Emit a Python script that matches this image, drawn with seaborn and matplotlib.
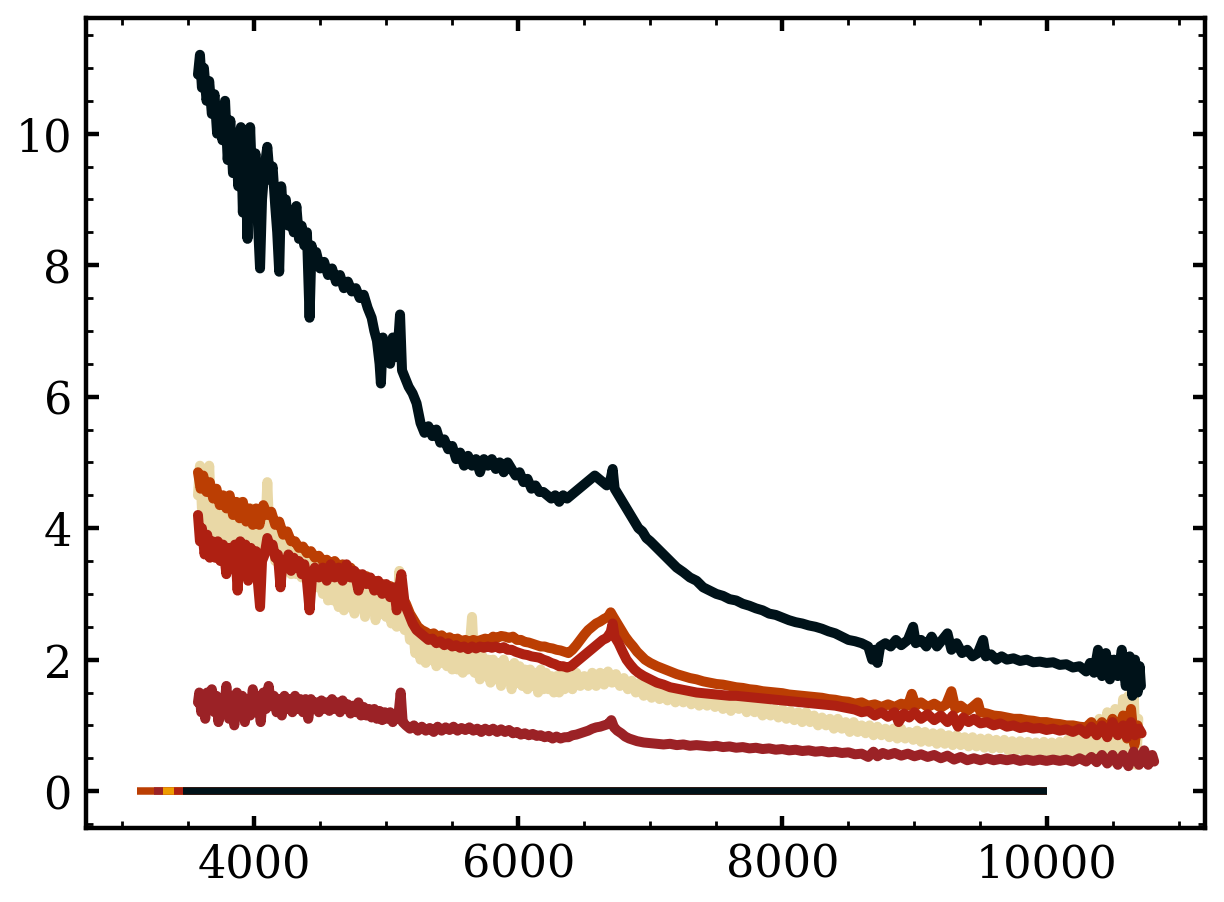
import numpy as np
import pandas as pd
import seaborn as sns
import matplotlib
matplotlib.use("Agg")
import matplotlib.pyplot as plt
from matplotlib.ticker import MultipleLocator

# --- spectra (wavelength in A, flux in arbitrary units) ---
wave_black = [3575, 3590, 3605, 3620, 3640, 3660, 3680, 3700, 3720, 3740, 3760, 3780, 3800, 3820, 3840,
              3860, 3880, 3900, 3915, 3930, 3950, 3970, 3990, 4010, 4030, 4045, 4060, 4080, 4100, 4120,
              4140, 4160, 4175, 4190, 4205, 4220, 4240, 4260, 4280, 4300, 4320, 4340, 4360, 4380, 4400,
              4420, 4435, 4450, 4470, 4500, 4530, 4560, 4590, 4620, 4650, 4680, 4710, 4740, 4770, 4800,
              4830, 4860, 4890, 4910, 4930, 4950, 4960, 4975, 4990, 5010, 5030, 5050, 5070, 5090, 5105,
              5120, 5140, 5170, 5200, 5230, 5260, 5290, 5320, 5350, 5380, 5410, 5440, 5470, 5500, 5530,
              5560, 5590, 5620, 5650, 5680, 5710, 5740, 5770, 5800, 5830, 5860, 5890, 5920, 5950, 5980,
              6010, 6040, 6070, 6100, 6130, 6160, 6190, 6220, 6250, 6280, 6310, 6340, 6370, 6400, 6430,
              6460, 6490, 6520, 6550, 6580, 6610, 6640, 6670, 6700, 6715, 6730, 6760, 6790, 6820, 6850,
              6880, 6910, 6940, 6970, 7000, 7050, 7100, 7150, 7200, 7250, 7300, 7350, 7400, 7450, 7500,
              7550, 7600, 7650, 7700, 7750, 7800, 7850, 7900, 7950, 8000, 8050, 8100, 8150, 8200, 8250,
              8300, 8350, 8400, 8450, 8500, 8550, 8600, 8650, 8680, 8700, 8720, 8740, 8780, 8820, 8860,
              8900, 8950, 8990, 9010, 9050, 9090, 9130, 9170, 9210, 9250, 9280, 9320, 9360, 9400, 9440,
              9480, 9520, 9540, 9580, 9620, 9660, 9700, 9750, 9800, 9850, 9900, 9950, 10000, 10050, 10100,
              10150, 10200, 10250, 10300, 10330, 10360, 10390, 10420, 10450, 10480, 10510, 10540, 10570,
              10600, 10630, 10650, 10670, 10690, 10705, 10715]
flux_black = [10.9, 11.2, 10.7, 11.0, 10.5, 10.8, 10.3, 10.6, 10.0, 10.4, 9.9, 10.5, 9.6, 10.2, 9.4,
              10.0, 9.2, 10.1, 8.8, 9.9, 8.4, 10.1, 9.0, 9.7, 8.6, 7.95, 9.0, 9.5, 9.8, 9.3,
              9.5, 8.9, 8.5, 7.9, 9.2, 8.8, 9.0, 8.6, 8.8, 8.5, 8.9, 8.4, 8.6, 8.3, 8.5,
              7.2, 8.3, 8.0, 8.2, 7.95, 8.05, 7.85, 7.95, 7.75, 7.85, 7.65, 7.75, 7.6, 7.65, 7.5,
              7.55, 7.35, 7.2, 7.0, 6.85, 6.5, 6.2, 6.9, 6.6, 6.8, 6.5, 6.9, 6.6, 6.8, 7.25,
              6.4, 6.3, 6.15, 6.05, 5.9, 5.6, 5.45, 5.55, 5.4, 5.5, 5.3, 5.35, 5.2, 5.25, 5.05,
              5.15, 4.95, 5.1, 4.95, 5.05, 4.85, 5.05, 4.95, 5.05, 4.9, 5.0, 4.85, 5.0, 4.9, 4.8,
              4.85, 4.7, 4.75, 4.6, 4.65, 4.55, 4.55, 4.5, 4.45, 4.5, 4.4, 4.5, 4.45, 4.5, 4.55,
              4.6, 4.65, 4.7, 4.75, 4.8, 4.75, 4.7, 4.65, 4.75, 4.9, 4.6, 4.5, 4.4, 4.3, 4.2,
              4.1, 4.0, 3.95, 3.85, 3.8, 3.7, 3.6, 3.5, 3.4, 3.33, 3.25, 3.2, 3.1, 3.05, 3.0,
              2.97, 2.92, 2.9, 2.85, 2.82, 2.78, 2.75, 2.7, 2.68, 2.64, 2.6, 2.57, 2.55, 2.52, 2.5,
              2.47, 2.43, 2.4, 2.35, 2.3, 2.28, 2.25, 2.2, 2.0, 2.15, 1.95, 2.2, 2.25, 2.2, 2.3,
              2.22, 2.3, 2.5, 2.25, 2.3, 2.2, 2.35, 2.2, 2.3, 2.4, 2.15, 2.25, 2.1, 2.15, 2.05,
              2.1, 2.3, 2.05, 2.08, 2.0, 2.05, 2.0, 2.02, 1.98, 2.0, 1.96, 1.97, 1.95, 1.96, 1.92,
              1.93, 1.88, 1.9, 1.82, 1.95, 1.8, 2.15, 1.75, 2.1, 1.7, 2.0, 1.75, 2.15,
              1.6, 2.05, 1.45, 2.0, 1.5, 1.9, 1.6]

wave_orange = [3575, 3595, 3615, 3640, 3665, 3690, 3715, 3740, 3765, 3790, 3815, 3840, 3865, 3890, 3915,
               3940, 3965, 3990, 4015, 4040, 4070, 4100, 4130, 4160, 4190, 4220, 4250, 4280, 4310, 4340,
               4370, 4400, 4430, 4460, 4490, 4520, 4550, 4580, 4610, 4640, 4670, 4700, 4730, 4760, 4790,
               4820, 4850, 4880, 4910, 4940, 4970, 5000, 5030, 5060, 5090, 5120, 5150, 5180, 5210, 5240,
               5270, 5300, 5330, 5360, 5390, 5420, 5450, 5480, 5510, 5540, 5570, 5600, 5630, 5660, 5690,
               5720, 5750, 5780, 5810, 5840, 5870, 5900, 5930, 5960, 5990, 6020, 6050, 6080, 6110, 6140,
               6170, 6200, 6230, 6260, 6290, 6320, 6350, 6380, 6410, 6440, 6470, 6500, 6530, 6560, 6590,
               6620, 6650, 6680, 6700, 6720, 6750, 6780, 6810, 6840, 6870, 6900, 6930, 6960, 7000, 7050,
               7100, 7150, 7200, 7250, 7300, 7350, 7400, 7450, 7500, 7550, 7600, 7650, 7700, 7750, 7800,
               7850, 7900, 7950, 8000, 8050, 8100, 8150, 8200, 8250, 8300, 8350, 8400, 8450, 8500, 8550,
               8600, 8650, 8700, 8750, 8800, 8850, 8900, 8950, 8980, 9010, 9050, 9100, 9150, 9200, 9240,
               9280, 9310, 9350, 9400, 9440, 9480, 9500, 9550, 9600, 9650, 9700, 9750, 9800, 9850, 9900,
               9950, 10000, 10050, 10100, 10150, 10200, 10250, 10300, 10340, 10380, 10420, 10460, 10500,
               10540, 10580, 10610, 10640, 10665, 10690]
flux_orange = [4.85, 4.6, 4.8, 4.55, 4.7, 4.45, 4.6, 4.35, 4.5, 4.3, 4.5, 4.2, 4.4, 4.15, 4.4,
               4.1, 4.3, 4.05, 4.3, 4.05, 4.35, 4.2, 4.25, 4.05, 4.1, 3.9, 3.95, 3.8, 3.8, 3.7,
               3.72, 3.62, 3.65, 3.55, 3.58, 3.5, 3.52, 3.45, 3.5, 3.42, 3.45, 3.38, 3.4, 3.32, 3.3,
               3.25, 3.27, 3.18, 3.2, 3.12, 3.15, 3.1, 3.12, 3.05, 3.1, 2.95, 2.85, 2.7, 2.6, 2.5,
               2.45, 2.42, 2.38, 2.4, 2.35, 2.37, 2.32, 2.34, 2.3, 2.32, 2.28, 2.3, 2.27, 2.3, 2.28,
               2.3, 2.32, 2.3, 2.35, 2.33, 2.36, 2.35, 2.33, 2.35, 2.3, 2.3, 2.27, 2.26, 2.24, 2.22,
               2.2, 2.2, 2.18, 2.17, 2.15, 2.14, 2.12, 2.1, 2.15, 2.22, 2.3, 2.38, 2.45, 2.5, 2.55,
               2.58, 2.62, 2.65, 2.72, 2.65, 2.55, 2.45, 2.35, 2.27, 2.2, 2.12, 2.06, 2.0, 1.95, 1.9,
               1.86, 1.82, 1.78, 1.75, 1.72, 1.7, 1.67, 1.65, 1.63, 1.62, 1.6, 1.58, 1.57, 1.55, 1.54,
               1.52, 1.51, 1.5, 1.49, 1.47, 1.46, 1.45, 1.44, 1.43, 1.42, 1.4, 1.39, 1.37, 1.36, 1.33,
               1.35, 1.3, 1.32, 1.28, 1.32, 1.28, 1.33, 1.3, 1.48, 1.3, 1.35, 1.28, 1.33, 1.27, 1.32,
               1.52, 1.25, 1.3, 1.22, 1.28, 1.35, 1.2, 1.18, 1.15, 1.14, 1.12, 1.1, 1.1, 1.08, 1.07,
               1.05, 1.05, 1.03, 1.02, 1.0, 1.0, 0.98, 0.97, 1.05, 0.92, 1.05, 0.9, 1.1,
               0.9, 1.15, 0.8, 1.25, 0.7, 1.0]

wave_red = [3575, 3590, 3605, 3625, 3645, 3665, 3685, 3705, 3725, 3745, 3765, 3790, 3810, 3835, 3855,
            3875, 3895, 3915, 3935, 3955, 3975, 3995, 4015, 4030, 4045, 4060, 4080, 4100, 4120, 4140,
            4160, 4180, 4200, 4215, 4240, 4260, 4280, 4300, 4320, 4340, 4360, 4380, 4400, 4420, 4440,
            4460, 4490, 4520, 4550, 4580, 4610, 4640, 4670, 4700, 4730, 4760, 4790, 4820, 4850, 4880,
            4910, 4940, 4970, 5000, 5030, 5060, 5080, 5100, 5115, 5140, 5170, 5200, 5230, 5260, 5290,
            5320, 5350, 5380, 5410, 5440, 5470, 5500, 5530, 5560, 5590, 5620, 5650, 5680, 5710, 5740,
            5770, 5800, 5830, 5860, 5890, 5920, 5950, 5980, 6010, 6040, 6070, 6100, 6130, 6160, 6190,
            6220, 6250, 6280, 6310, 6340, 6370, 6400, 6430, 6460, 6490, 6520, 6550, 6580, 6610, 6640,
            6670, 6700, 6715, 6730, 6760, 6790, 6820, 6850, 6880, 6910, 6950, 7000, 7050, 7100, 7150,
            7200, 7250, 7300, 7350, 7400, 7450, 7500, 7550, 7600, 7650, 7700, 7750, 7800, 7850, 7900,
            7950, 8000, 8050, 8100, 8150, 8200, 8250, 8300, 8350, 8400, 8450, 8500, 8550, 8600, 8650,
            8700, 8750, 8800, 8850, 8880, 8920, 8960, 9000, 9050, 9100, 9150, 9200, 9250, 9290, 9330,
            9370, 9410, 9450, 9500, 9550, 9600, 9650, 9700, 9750, 9800, 9850, 9900, 9950, 10000, 10050,
            10100, 10150, 10200, 10250, 10300, 10340, 10380, 10420, 10460, 10500, 10540, 10580, 10610,
            10640, 10670, 10700, 10720]
flux_red = [4.2, 3.8, 4.0, 3.6, 3.9, 3.55, 3.8, 3.55, 3.8, 3.5, 3.75, 3.3, 3.7, 3.4, 3.75,
            3.05, 3.8, 3.3, 3.75, 3.2, 3.7, 3.35, 3.65, 3.15, 2.8, 3.5, 3.6, 3.85, 3.7, 3.75,
            3.55, 3.6, 3.1, 3.5, 3.45, 3.6, 3.35, 3.55, 3.4, 3.5, 3.3, 3.45, 3.2, 2.75, 3.3,
            3.4, 3.25, 3.4, 3.2, 3.45, 3.25, 3.4, 3.2, 3.45, 3.25, 3.35, 3.05, 3.3, 3.15, 3.25,
            3.05, 3.2, 3.0, 3.15, 2.95, 3.1, 2.75, 3.1, 3.3, 2.85, 2.7, 2.55, 2.45, 2.4, 2.35,
            2.3, 2.32, 2.25, 2.28, 2.22, 2.25, 2.2, 2.22, 2.18, 2.2, 2.16, 2.2, 2.17, 2.2, 2.18,
            2.2, 2.18, 2.2, 2.17, 2.19, 2.15, 2.15, 2.12, 2.1, 2.08, 2.07, 2.05, 2.04, 2.03, 2.0,
            1.98, 1.95, 1.93, 1.9, 1.9, 1.88, 1.9, 1.95, 2.0, 2.05, 2.1, 2.15, 2.2, 2.25, 2.3,
            2.33, 2.42, 2.55, 2.35, 2.25, 2.12, 2.0, 1.92, 1.85, 1.8, 1.75, 1.7, 1.65, 1.62, 1.58,
            1.56, 1.54, 1.52, 1.5, 1.49, 1.48, 1.47, 1.46, 1.45, 1.45, 1.44, 1.43, 1.42, 1.41, 1.4,
            1.39, 1.38, 1.37, 1.36, 1.35, 1.34, 1.33, 1.32, 1.31, 1.3, 1.28, 1.26, 1.24, 1.2, 1.22,
            1.15, 1.2, 1.13, 1.2, 1.05, 1.18, 1.12, 1.2, 1.1, 1.17, 1.08, 1.15, 1.05, 1.15, 0.98,
            1.12, 1.05, 1.1, 1.03, 1.05, 1.0, 1.03, 0.98, 1.0, 0.96, 0.98, 0.95, 0.96, 0.93, 0.95,
            0.92, 0.94, 0.9, 0.95, 0.87, 0.98, 0.85, 1.0, 0.82, 1.05, 0.85, 1.0, 0.82,
            1.05, 0.85, 0.95, 0.88]

wave_tan = [3575, 3590, 3605, 3620, 3640, 3660, 3680, 3700, 3720, 3740, 3760, 3780, 3800, 3820, 3840,
            3860, 3880, 3900, 3920, 3940, 3960, 3980, 4000, 4020, 4040, 4060, 4080, 4100, 4120, 4140,
            4160, 4180, 4200, 4220, 4240, 4260, 4280, 4300, 4320, 4340, 4360, 4380, 4400, 4420, 4440,
            4460, 4480, 4500, 4520, 4540, 4560, 4580, 4600, 4620, 4640, 4660, 4680, 4700, 4720, 4740,
            4760, 4780, 4800, 4820, 4840, 4860, 4880, 4900, 4920, 4940, 4960, 4980, 5000, 5020, 5040,
            5060, 5080, 5100, 5120, 5140, 5160, 5180, 5200, 5220, 5240, 5260, 5280, 5300, 5320, 5340,
            5360, 5380, 5400, 5420, 5440, 5460, 5480, 5500, 5520, 5540, 5560, 5580, 5600, 5620, 5650,
            5670, 5690, 5710, 5730, 5750, 5770, 5790, 5810, 5830, 5850, 5870, 5890, 5910, 5930, 5950,
            5970, 5990, 6010, 6030, 6050, 6070, 6090, 6110, 6130, 6150, 6170, 6190, 6210, 6230, 6250,
            6270, 6290, 6310, 6330, 6350, 6380, 6410, 6440, 6470, 6500, 6530, 6560, 6590, 6620, 6650,
            6680, 6710, 6740, 6770, 6800, 6830, 6860, 6890, 6920, 6950, 6980, 7010, 7040, 7070, 7100,
            7130, 7160, 7190, 7220, 7250, 7280, 7310, 7340, 7370, 7400, 7430, 7460, 7490, 7520, 7550,
            7580, 7610, 7640, 7670, 7700, 7730, 7760, 7790, 7820, 7850, 7880, 7910, 7940, 7970, 8000,
            8030, 8060, 8090, 8120, 8150, 8180, 8210, 8240, 8270, 8300, 8330, 8360, 8390, 8420, 8450,
            8480, 8510, 8540, 8570, 8600, 8630, 8660, 8690, 8720, 8750, 8780, 8810, 8840, 8870, 8900,
            8930, 8960, 8990, 9020, 9050, 9080, 9110, 9140, 9170, 9200, 9230, 9260, 9290, 9320, 9350,
            9380, 9410, 9440, 9470, 9500, 9530, 9560, 9590, 9620, 9650, 9680, 9710, 9740, 9770, 9800,
            9830, 9860, 9890, 9920, 9950, 9980, 10010, 10040, 10070, 10100, 10130, 10160, 10190, 10220,
            10250, 10280, 10310, 10340, 10370, 10400, 10430, 10460, 10490, 10520, 10550, 10580, 10600,
            10620, 10640, 10660, 10680, 10695]
flux_tan = [4.5, 4.95, 4.3, 4.8, 4.1, 4.95, 3.9, 4.6, 3.75, 4.5, 3.6, 4.4, 3.55, 4.3, 3.45,
            4.2, 3.6, 4.4, 3.4, 4.1, 3.5, 4.3, 3.6, 4.05, 3.3, 4.2, 3.7, 4.7, 3.7, 4.1,
            3.5, 3.9, 3.4, 3.9, 3.45, 3.8, 3.3, 3.75, 3.3, 3.7, 3.25, 3.6, 3.2, 3.55, 3.1,
            3.5, 3.1, 3.45, 3.0, 3.4, 2.9, 3.35, 2.9, 3.3, 2.8, 3.25, 2.75, 3.2, 2.8, 3.15,
            2.7, 3.2, 2.8, 3.1, 2.65, 3.05, 2.75, 3.0, 2.6, 2.95, 2.7, 3.0, 2.65, 2.9, 2.55,
            2.85, 2.5, 3.35, 2.6, 2.45, 2.7, 2.3, 2.55, 2.1, 2.4, 2.0, 2.35, 1.95, 2.3, 2.0,
            2.35, 1.9, 2.3, 1.95, 2.25, 1.9, 2.25, 1.85, 2.2, 1.85, 2.15, 1.8, 2.2, 1.85, 2.65,
            1.8, 2.1, 1.7, 2.05, 1.75, 2.0, 1.65, 2.0, 1.7, 1.95, 1.6, 2.0, 1.7, 1.9, 1.55,
            1.95, 1.65, 1.9, 1.6, 1.85, 1.55, 1.85, 1.6, 1.8, 1.5, 1.85, 1.55, 1.8, 1.55, 1.75,
            1.5, 1.75, 1.5, 1.8, 1.55, 1.75, 1.55, 1.8, 1.6, 1.75, 1.6, 1.8, 1.6, 1.8, 1.62,
            1.82, 1.65, 1.78, 1.6, 1.72, 1.55, 1.68, 1.5, 1.65, 1.45, 1.6, 1.42, 1.58, 1.4, 1.55,
            1.38, 1.52, 1.35, 1.5, 1.35, 1.48, 1.32, 1.45, 1.3, 1.45, 1.3, 1.42, 1.28, 1.4, 1.25,
            1.38, 1.22, 1.35, 1.25, 1.35, 1.2, 1.33, 1.2, 1.3, 1.15, 1.3, 1.15, 1.25, 1.12, 1.25,
            1.1, 1.22, 1.08, 1.2, 1.05, 1.2, 1.05, 1.15, 1.0, 1.12, 1.0, 1.1, 0.95, 1.1, 0.95,
            1.05, 0.9, 1.05, 0.9, 1.0, 0.88, 1.0, 0.85, 0.98, 0.85, 0.95, 0.82, 0.95, 0.8, 0.95,
            0.8, 0.9, 0.78, 0.92, 0.75, 0.9, 0.75, 0.88, 0.72, 0.88, 0.72, 0.85, 0.7, 0.85, 0.7,
            0.82, 0.68, 0.82, 0.68, 0.8, 0.66, 0.8, 0.65, 0.78, 0.65, 0.78, 0.62, 0.76, 0.62, 0.76,
            0.6, 0.75, 0.6, 0.74, 0.58, 0.75, 0.6, 0.74, 0.58, 0.75, 0.6, 0.78, 0.6, 0.8,
            0.6, 0.85, 0.55, 0.95, 0.5, 1.1, 0.55, 1.2, 0.45, 1.25, 0.5, 1.4, 0.45,
            1.45, 0.4, 1.5, 0.4, 1.1]

wave_darkred = [3575, 3585, 3600, 3615, 3630, 3645, 3660, 3680, 3700, 3715, 3730, 3750, 3770, 3790, 3810,
                3830, 3850, 3870, 3890, 3910, 3930, 3950, 3970, 3990, 4010, 4030, 4050, 4070, 4090, 4110,
                4130, 4150, 4170, 4190, 4210, 4230, 4250, 4270, 4290, 4310, 4330, 4350, 4370, 4390, 4410,
                4430, 4450, 4470, 4490, 4510, 4530, 4550, 4570, 4590, 4610, 4630, 4650, 4670, 4690, 4710,
                4730, 4750, 4770, 4790, 4810, 4830, 4850, 4870, 4890, 4910, 4930, 4950, 4970, 4990, 5010,
                5030, 5050, 5070, 5090, 5110, 5125, 5150, 5180, 5210, 5240, 5270, 5300, 5330, 5360, 5390,
                5420, 5450, 5480, 5510, 5540, 5570, 5600, 5630, 5660, 5690, 5720, 5750, 5780, 5810, 5840,
                5870, 5900, 5930, 5960, 5990, 6020, 6050, 6080, 6110, 6140, 6170, 6200, 6230, 6260, 6290,
                6320, 6350, 6380, 6410, 6440, 6470, 6500, 6530, 6560, 6590, 6620, 6650, 6680, 6705, 6725,
                6750, 6780, 6810, 6840, 6870, 6900, 6950, 7000, 7050, 7100, 7150, 7200, 7250, 7300, 7350,
                7400, 7450, 7500, 7550, 7600, 7650, 7700, 7750, 7800, 7850, 7900, 7950, 8000, 8050, 8100,
                8150, 8200, 8250, 8300, 8350, 8400, 8450, 8500, 8550, 8600, 8650, 8690, 8720, 8760, 8800,
                8850, 8900, 8950, 9000, 9050, 9100, 9150, 9200, 9250, 9300, 9350, 9400, 9450, 9500, 9550,
                9600, 9650, 9700, 9750, 9800, 9850, 9900, 9950, 10000, 10050, 10100, 10150, 10200, 10250,
                10300, 10340, 10380, 10420, 10460, 10500, 10540, 10580, 10620, 10660, 10700, 10740, 10770,
                10800, 10815]
flux_darkred = [1.35, 1.5, 1.2, 1.45, 1.1, 1.5, 1.25, 1.55, 1.2, 1.45, 1.05, 1.4, 1.2, 1.6, 1.1,
                1.45, 1.0, 1.5, 1.2, 1.45, 1.05, 1.4, 1.15, 1.55, 1.2, 1.45, 1.05, 1.5, 1.25, 1.6,
                1.3, 1.45, 1.2, 1.4, 1.15, 1.45, 1.25, 1.4, 1.2, 1.45, 1.25, 1.4, 1.2, 1.4, 1.1,
                1.4, 1.25, 1.35, 1.2, 1.38, 1.25, 1.35, 1.22, 1.4, 1.25, 1.35, 1.2, 1.38, 1.25, 1.32,
                1.18, 1.3, 1.2, 1.35, 1.15, 1.28, 1.15, 1.25, 1.12, 1.25, 1.1, 1.22, 1.08, 1.2, 1.1,
                1.2, 1.05, 1.15, 1.1, 1.5, 1.05, 1.0, 0.95, 1.0, 0.92, 0.98, 0.92, 0.96, 0.9, 0.98,
                0.92, 0.97, 0.93, 0.98, 0.92, 0.96, 0.93, 0.97, 0.92, 0.95, 0.9, 0.95, 0.91, 0.95, 0.9,
                0.94, 0.9, 0.93, 0.88, 0.9, 0.86, 0.88, 0.85, 0.87, 0.84, 0.85, 0.82, 0.84, 0.8, 0.83,
                0.8, 0.82, 0.82, 0.85, 0.86, 0.88, 0.9, 0.92, 0.95, 0.97, 0.98, 1.0, 1.02, 1.08, 0.97,
                0.92, 0.88, 0.83, 0.8, 0.78, 0.76, 0.74, 0.73, 0.72, 0.71, 0.72, 0.7, 0.71, 0.69, 0.7,
                0.69, 0.68, 0.69, 0.67, 0.68, 0.66, 0.67, 0.65, 0.66, 0.64, 0.65, 0.63, 0.64, 0.62, 0.63,
                0.61, 0.62, 0.6, 0.61, 0.59, 0.6, 0.58, 0.59, 0.56, 0.57, 0.52, 0.6, 0.53, 0.58, 0.55,
                0.58, 0.54, 0.57, 0.53, 0.56, 0.52, 0.55, 0.5, 0.54, 0.48, 0.52, 0.47, 0.5, 0.47, 0.5,
                0.47, 0.49, 0.47, 0.49, 0.46, 0.48, 0.46, 0.48, 0.46, 0.48, 0.46, 0.48, 0.45, 0.5,
                0.45, 0.52, 0.44, 0.55, 0.42, 0.55, 0.4, 0.55, 0.38, 0.6, 0.4, 0.62, 0.4,
                0.55, 0.45]

# flat zero-level segments drawn at the bottom (start wavelength, end wavelength)
zero_start = [3110, 3240, 3307, 3390, 3465]
zero_end = [10000, 10000, 10000, 10000, 10000]
zero_colors = ["#bb3e03", "#9b2226", "#ee9b00", "#ae2012", "#001219"]

series = [
    (wave_tan, flux_tan, "#e9d8a6"),
    (wave_orange, flux_orange, "#bb3e03"),
    (wave_red, flux_red, "#ae2012"),
    (wave_darkred, flux_darkred, "#9b2226"),
    (wave_black, flux_black, "#001219"),
]

sns.set_style("ticks", {"axes.edgecolor": "black", "xtick.color": "black",
                        "ytick.color": "black", "text.color": "black"})
plt.rcParams['font.family'] = ['DejaVu Serif']
plt.rcParams['mathtext.fontset'] = 'dejavuserif'

fig = plt.figure(figsize=(6.12, 4.515), dpi=200)
ax = fig.add_axes([0.070, 0.082, 0.9145, 0.897])

for x0, x1, c in zip(zero_start, zero_end, zero_colors):
    zdf = pd.DataFrame({"wave": [x0, x1], "flux": [0.0, 0.0]})
    sns.lineplot(data=zdf, x="wave", y="flux", color=c, lw=2.7, ax=ax,
                 estimator=None, sort=False, solid_capstyle='butt')

for w, f, c in series:
    df = pd.DataFrame({"wave": w, "flux": f})
    sns.lineplot(data=df, x="wave", y="flux", color=c, lw=3.6, ax=ax,
                 estimator=None, sort=False)

ax.set_xlabel("")
ax.set_ylabel("")

ax.xaxis.set_major_locator(MultipleLocator(2000))
ax.xaxis.set_minor_locator(MultipleLocator(500))
ax.yaxis.set_major_locator(MultipleLocator(2))
ax.yaxis.set_minor_locator(MultipleLocator(0.5))
ax.tick_params(which='both', direction='in', top=True, right=True, labelsize=16,
               colors='black', labelcolor='black')
ax.tick_params(which='major', length=4.5, width=1.6, pad=5)
ax.tick_params(which='minor', length=2.6, width=1.0)
for sp in ax.spines.values():
    sp.set_linewidth(1.6)
    sp.set_color('black')

fig.savefig("out.png", dpi=200)
